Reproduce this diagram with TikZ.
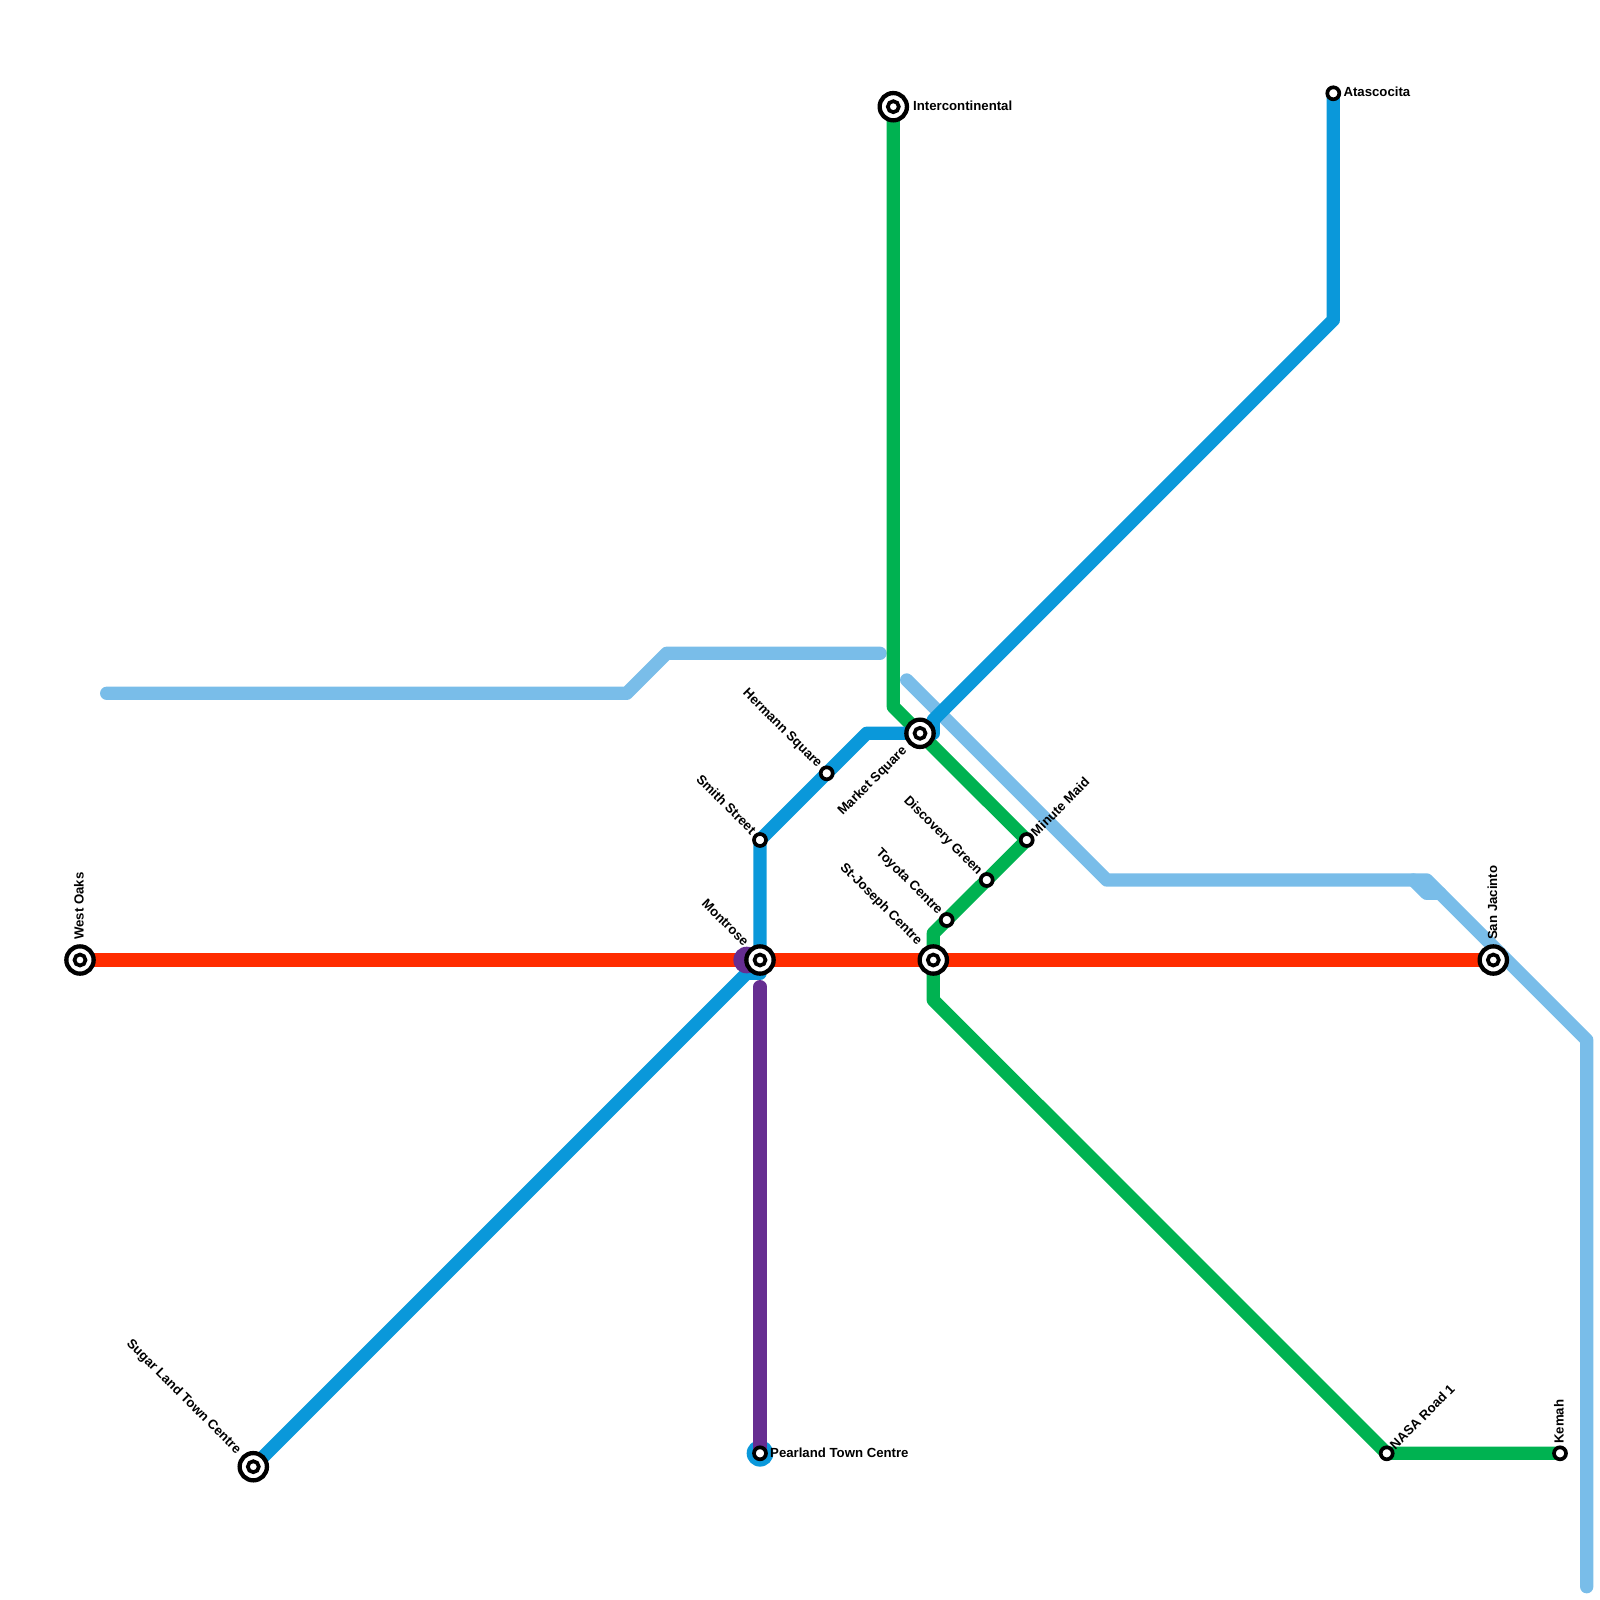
\documentclass[tikz,border=0pt]{standalone}
\usepackage{fontspec}
\setmainfont{Liberation Sans}
\definecolor{lred}{HTML}{FF2C00}
\definecolor{lblue}{HTML}{0A98DA}
\definecolor{lgreen}{HTML}{00B251}
\definecolor{lsky}{HTML}{79BDE9}
\definecolor{lpurple}{HTML}{662D91}
\tikzset{
  line/.style={line width=13.33pt,line cap=round,line join=round},
  bigst/.style={circle,draw=black,fill=white,line width=4.3pt,minimum size=27.3pt,inner sep=0pt},
  midst/.style={circle,draw=black,fill=white,line width=3.7pt,minimum size=11pt,inner sep=0pt},
  smallst/.style={circle,draw=black,fill=white,line width=3.7pt,minimum size=12pt,inner sep=0pt},
  lab/.style={font=\bfseries\fontsize{13.2}{14}\selectfont,inner sep=0pt,text=black},
}
\begin{document}
\begin{tikzpicture}[x=1pt,y=-1pt]
\useasboundingbox (0,0) rectangle (1600,1600);
% positions
\coordinate (westoaks) at (80,960);
\coordinate (montrose) at (760,960);
\coordinate (stjoseph) at (933.3,960);
\coordinate (sanjacinto) at (1493.3,960);
\coordinate (market) at (920,733.3);
\coordinate (smith) at (760,840);
\coordinate (hermann) at (826.7,773.3);
\coordinate (minute) at (1026.7,840);
\coordinate (discovery) at (986.7,880);
\coordinate (toyota) at (946.7,920);
\coordinate (interc) at (893.3,106.7);
\coordinate (atas) at (1333.3,93.3);
\coordinate (sugar) at (253.3,1466.7);
\coordinate (pearland) at (760,1453.3);
\coordinate (nasa) at (1386.7,1453.3);
\coordinate (kemah) at (1560,1453.3);
% bends
\coordinate (s1) at (106.7,693.3);
\coordinate (s2) at (626.7,693.3);
\coordinate (s3) at (666.7,653.3);
\coordinate (s4) at (880,653.3);
\coordinate (s5) at (906.7,680);
\coordinate (s6) at (1106.7,880);
\coordinate (s7) at (1426.7,880);
\coordinate (s8) at (1586.7,1040);
\coordinate (s9) at (1586.7,1586.7);
\coordinate (s10) at (1413.3,880);
\coordinate (s11) at (1426.7,893.3);
\coordinate (s12) at (1440,893.3);
\coordinate (b1) at (746.7,973.3);
\coordinate (b2) at (760,973.3);
\coordinate (b3) at (866.7,733.3);
\coordinate (b4) at (933.3,733.3);
\coordinate (b5) at (933.3,720);
\coordinate (b6) at (1333.3,320);
\coordinate (g1) at (893.3,706.7);
\coordinate (g2) at (933.3,933.3);
\coordinate (g3) at (933.3,1000);
\coordinate (p1) at (760,986.7);
\coordinate (p2) at (746.7,960);
% lines
\draw[line,lsky] (s1)--(s2)--(s3)--(s4);
\draw[line,lsky] (s5)--(s6)--(s7)--(s8)--(s9);
\draw[line,lsky] (s10)--(s11)--(s12);
\fill[lblue] (pearland) circle (13.33pt);
\draw[line,lgreen] (interc)--(g1)--(minute)--(g2)--(g3)--(nasa)--(kemah);
\draw[line,lblue] (sugar)--(b1)--(b2)--(smith)--(b3)--(b4)--(b5)--(b6)--(atas);
\draw[line,lred] (westoaks)--(sanjacinto);
\draw[line,lpurple] (p1)--(pearland);
\fill[lpurple] (p2) circle (13.33pt);
\fill[lpurple] (p2)++(0,-13.33) rectangle ++(13.33,26.66);
% stations
\foreach \n/\p in {sw/westoaks,sm/montrose,sj/stjoseph,ss/sanjacinto,sk/market,si/interc,sg/sugar}{
  \node[bigst] (\n) at (\p) {};
  \node[midst] at (\p) {};
}
\foreach \n/\p in {tsm/smith,the/hermann,tmi/minute,tdi/discovery,tto/toyota,tat/atas,tpe/pearland,tna/nasa,tke/kemah}{
  \node[smallst] (\n) at (\p) {};
}
% labels
\node[lab,rotate=90,anchor=west] (lw) at (79,940) {West Oaks};
\node[lab,rotate=90,anchor=west] (ls) at (1492.5,940) {San Jacinto};
\node[lab,rotate=90,anchor=west] (lk) at (1559,1444) {Kemah};
\node[lab,anchor=west] (li) at (913,106) {Intercontinental};
\node[lab,anchor=west] (la) at (1343.3,92) {Atascocita};
\node[lab,anchor=west] (lp) at (770,1453) {Pearland Town Centre};
\node[lab,rotate=45,anchor=west] (lmm) at (1033,834) {Minute Maid};
\node[lab,rotate=45,anchor=west] (ln) at (1392,1447) {NASA Road 1};
\node[lab,rotate=45,anchor=east] (lmk) at (905,749) {Market Square};
\node[lab,rotate=-45,anchor=east] (lhe) at (819.5,766) {Hermann Square};
\node[lab,rotate=-45,anchor=east] (lsm) at (754,832) {Smith Street};
\node[lab,rotate=-45,anchor=east] (lmo) at (746.5,943.5) {Montrose};
\node[lab,rotate=-45,anchor=east] (lto) at (940,913) {Toyota Centre};
\node[lab,rotate=-45,anchor=east] (ldi) at (980,873) {Discovery Green};
\node[lab,rotate=-45,anchor=east] (lsj) at (919.5,943) {St-Joseph Centre};
\node[lab,rotate=-45,anchor=east] (lsu) at (238.5,1452) {Sugar Land Town Centre};
\end{tikzpicture}
\end{document}
